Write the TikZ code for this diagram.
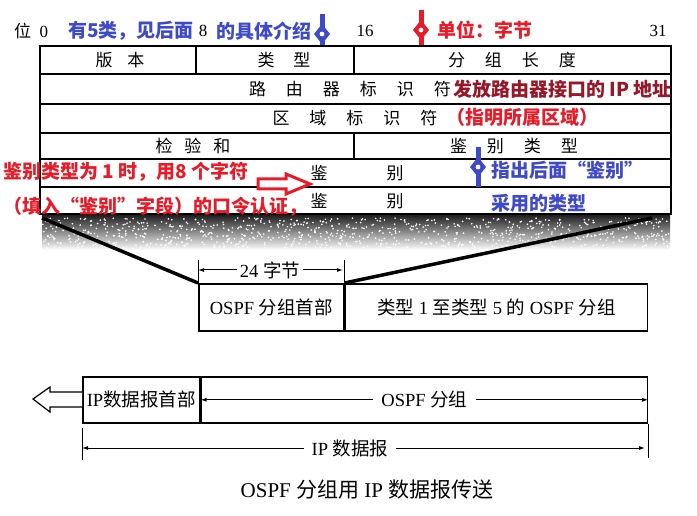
\documentclass[tikz,border=0pt]{standalone}
\usepackage{fontspec}
\setmainfont{Liberation Serif}
\newfontfamily\cjk{Noto Sans CJK SC}
\usepackage{tikz}
\usetikzlibrary{arrows.meta}
\definecolor{noteblue}{RGB}{62,74,200}
\definecolor{notered}{RGB}{232,28,40}
\definecolor{notedark}{RGB}{150,24,40}
\def\zh#1{{\cjk #1}}
\def\G{\hspace{20pt}}
\def\Pin#1#2#3{\draw [line width=5pt,#1] (#2,#3-20) -- (#2,#3+20);
  \fill [#1] (#2,#3-10) -- (#2+8,#3) -- (#2,#3+10) -- (#2-8,#3) -- cycle;
  \fill [white] (#2,#3) circle (2.4);}
\tikzset{
  cell/.style={font=\fontsize{17}{17}\selectfont, inner sep=0pt},
  big/.style={font=\fontsize{18.5}{18.5}\selectfont, inner sep=0pt},
  note/.style={font=\cjk\bfseries\fontsize{19}{19}\selectfont, inner sep=0pt, anchor=west},
  dim/.style={-{Latex[length=6pt,width=4pt]}, line width=1pt},
  box/.style={draw, line width=1.6pt, anchor=north west, big}
}
\begin{document}
\begin{tikzpicture}[x=1pt,y=-1pt]
\useasboundingbox (0,0) rectangle (697,516);
% bit positions
\node[cell,anchor=west] (bit0) at (14,31) {\zh{位}\ \ 0};
\node[cell] (bit8) at (203,31) {8};
\node[cell] (bit16) at (365,31) {16};
\node[cell] (bit31) at (658,31) {31};
\node[note,text=noteblue] (kinda) at (68,31) {有5类，见后面};
\node[note,text=noteblue] (kindb) at (216,31) {的具体介绍};
\Pin{noteblue}{322}{34}
\Pin{notered}{421}{30}
\node[note,text=notered] (unit) at (437,30) {单位：字节};
% header
\shade[top color=black!90, middle color=black!35, bottom color=white] (42,214) rectangle (670,250);
\foreach \i in {1,...,900} \fill[white] (42+628*rnd,218+30*rnd) circle (0.9);
\draw[line width=1.6pt, fill=white] (40,46) rectangle (671,214);
\foreach \y in {74,104,133,159,187} \draw[line width=1.2pt] (40,\y) -- (671,\y);
\draw[line width=1.2pt] (196,46) -- (196,74) (354,46) -- (354,74) (354,133) -- (354,159);
\node[cell] (ver) at (120,60) {\zh{版\hspace{15pt}本}};
\node[cell] (typ) at (284,60) {\zh{类\hspace{19pt}型}};
\node[cell] (len) at (512,60) {\zh{分\G 组\G 长\G 度}};
\node[cell] (rid) at (350,89) {\zh{路\G 由\G 器\G 标\G 识\G 符}};
\node[cell] (aid) at (355,118) {\zh{区\G 域\G 标\G 识\G 符}};
\node[cell] (chk) at (193,146) {\zh{检\hspace{12pt}验\hspace{12pt}和}};
\node[cell] (aut) at (514,146) {\zh{鉴\G 别\G 类\G 型}};
\node[cell] (au1) at (357,173) {\zh{鉴\hspace{59pt}别}};
\node[cell] (au2) at (357,201) {\zh{鉴\hspace{59pt}别}};
\node[note,text=notedark] (ridnote) at (453,89) {发放路由器接口的 IP 地址};
\node[note,text=notered] (aidnote) at (446,117) {（指明所属区域）};
\node[note,text=notered] (pwa) at (3,172) {鉴别类型为 1 时，用8 个字符};
\node[note,text=notered] (pwb) at (3,207) {（填入“鉴别”字段）的口令认证，};
\draw[notered, line width=3pt, fill=white] (258,179) -- (286,179) -- (286,174) -- (310,184)
  -- (286,194) -- (286,189) -- (258,189) -- cycle;
\Pin{noteblue}{478}{167}
\node[note,text=noteblue] (auta) at (491,170) {指出后面“鉴别”};
\node[note,text=noteblue] (autb) at (491,203) {采用的类型};
% OSPF packet
\node[box, minimum width=145pt, minimum height=47pt] (hdr) at (198,283) {OSPF \zh{分组首部}};
\node[box, minimum width=302pt, minimum height=47pt] (body) at (hdr.north east) {\zh{类型} 1 \zh{至类型} 5 \zh{的} OSPF \zh{分组}};
\coordinate (fanL) at (42,218);
\coordinate (fanR) at (652,218);
\draw[line width=3.5pt] (fanL) -- (hdr.north west);
\draw[line width=3.5pt] (fanR) -- (hdr.north east);
\draw[line width=1pt] (hdr.north west) -- ++(0,-23) (hdr.north east) -- ++(0,-23);
\node[big, fill=white, inner sep=3pt] (d24) at (270,270) {24 \zh{字节}};
\coordinate (d24L) at (198,270);
\coordinate (d24R) at (343,270);
\draw[dim] (d24) -- (d24L);
\draw[dim] (d24) -- (d24R);
% IP datagram
\node[box, minimum width=117pt, minimum height=46pt] (iph) at (82,376) {IP\zh{数据报首部}};
\node[box, minimum width=446pt, minimum height=46pt] (ipd) at (iph.north east) {};
\node[big, inner sep=8pt] (ospf) at (ipd.center) {OSPF \zh{分组}};
\draw[dim] (ospf) -- (iph.east);
\draw[dim] (ospf) -- (ipd.east);
\draw[line width=1.2pt, fill=white] (iph.west |- 0,392) -- (50,392) -- (50,387) -- (33,399)
  -- (50,412) -- (50,407) -- (iph.west |- 0,407);
\draw[line width=1pt] (82,428) -- (82,460) (ipd.south east) -- ++(0,34);
\node[big, fill=white, inner sep=8pt] (dgram) at (350,448) {IP \zh{数据报}};
\coordinate (dgL) at (82,448);
\coordinate (dgR) at (645,448);
\draw[dim] (dgram) -- (dgL);
\draw[dim] (dgram) -- (dgR);
\node[font=\fontsize{21}{21}\selectfont] (cap) at (367,490) {OSPF \zh{分组用} IP \zh{数据报传送}};
\end{tikzpicture}
\end{document}
